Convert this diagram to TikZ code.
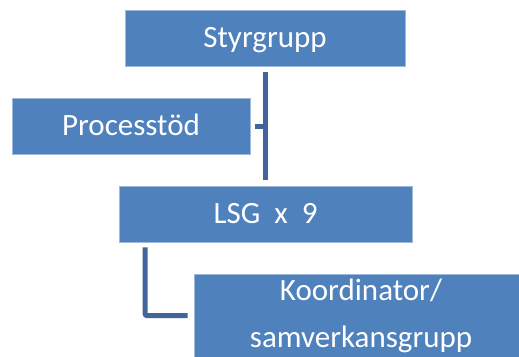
\documentclass[tikz,border=0pt]{standalone}
\usepackage{fontspec}
\setmainfont{Carlito}
\definecolor{orgblue}{HTML}{4F81BD}
\definecolor{linkblue}{HTML}{41659A}
\tikzset{
  orgbox/.style={rectangle, fill=orgblue, draw=orgblue!55!white, line width=0.6pt,
    text=white, font=\fontsize{31}{47}\selectfont, inner sep=0pt},
  onerow/.style={text height=24pt, text depth=6pt},
  link/.style={draw=linkblue, line width=5pt, line join=round}
}
\begin{document}
\begin{tikzpicture}[x=1pt,y=-1pt]
		\useasboundingbox (0,0) rectangle (519,356);
		\clip (0,0) rectangle (519,356);
		\node[orgbox, onerow, minimum width=280pt, minimum height=56pt] (styr) at (265,38) {Styrgrupp};
		\node[orgbox, onerow, minimum width=238pt, minimum height=56pt] (proc) at (131,126) {Processtöd};
		\node[orgbox, onerow, minimum width=293pt, minimum height=56pt] (lsg) at (265.5,214) {LSG~~x~~9};
		\node[orgbox, align=center, minimum width=334pt, minimum height=83pt] (koord) at (361,315.5) {Koordinator/\\samverkansgrupp};
		\draw [link, shorten <=6pt, shorten >=6pt] (styr.south) to (styr.south |- lsg.north);
		\draw [link] ([xshift=5pt]proc.east) to (proc.east -| styr.south);
		\draw [link, rounded corners=1pt] ([xshift=26.5pt,yshift=-5pt]lsg.south west) |- ([xshift=-6pt]koord.west);
	\end{tikzpicture}
\end{document}
